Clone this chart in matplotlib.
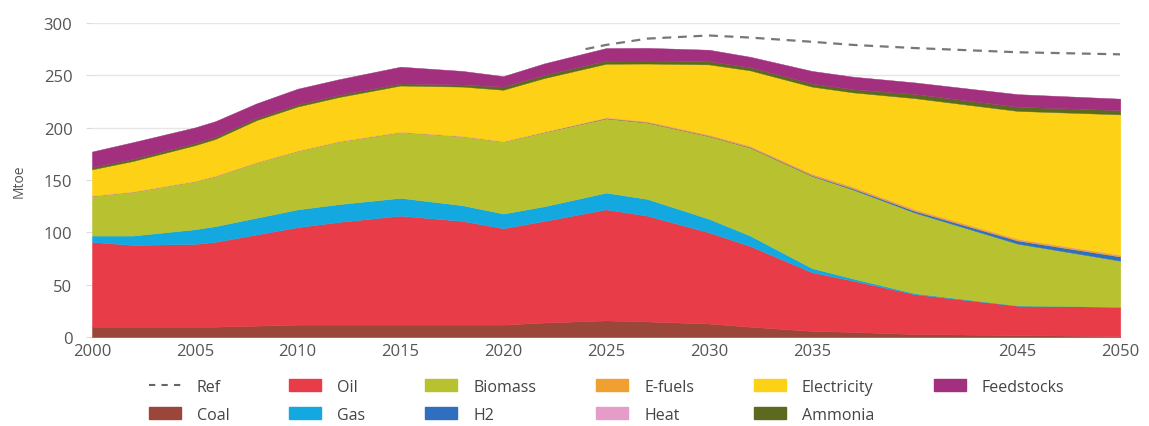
import matplotlib
matplotlib.use('Agg')
import matplotlib.pyplot as plt
from matplotlib.lines import Line2D
from matplotlib.patches import Patch

plt.rcParams['font.family'] = ['Open Sans', 'DejaVu Sans']

# Final energy demand by carrier, Mtoe
years = [2000, 2002, 2005, 2006, 2008, 2010, 2012, 2015, 2018, 2020,
         2022, 2025, 2027, 2030, 2032, 2035, 2037, 2040, 2045, 2050]
coal = [10, 10, 10, 10, 11, 12, 12, 12, 12, 12, 14, 16, 15, 13, 10, 6, 5, 3, 2, 1]
oil = [81, 78, 79, 81, 87, 93, 98, 104, 99, 92, 97, 106, 101, 87, 77, 56, 49, 38, 28, 28]
gas = [6, 9, 14, 15, 16, 17, 17, 17, 15, 14, 14, 16, 16, 13, 10, 4, 2, 1, 0.3, 0]
biomass = [38, 42, 46, 48, 53, 56, 60, 63, 66, 69, 71, 71, 73, 79, 84, 88, 85, 77, 59, 44]
h2 = [0, 0, 0, 0, 0, 0, 0, 0, 0, 0, 0, 0, 0, 0, 0.2, 0.5, 1, 1.5, 3, 4]
efuels = [0, 0, 0, 0, 0, 0, 0, 0, 0, 0, 0.2, 0.8, 1, 1.2, 1.3, 1.5, 1.5, 1.5, 1.5, 1.5]
heat = [0.2] * 20
electricity = [25, 29, 34, 35, 40, 42, 42, 44, 47, 49, 51, 51, 55, 67, 72, 83, 90, 106, 122, 134]
ammonia = [2, 2, 2, 2, 2, 2, 2, 2, 2, 3, 3, 3, 3, 3, 3, 3, 3, 4, 4, 4]
feedstocks = [15, 16, 15, 15, 14, 15, 15, 16, 13, 10, 11, 12, 12, 11, 10, 12, 12, 11, 12, 11]

ref_years = [2024, 2025, 2027, 2030, 2032, 2035, 2037, 2040, 2045, 2050]
ref = [275, 279, 285, 288, 286, 282, 279, 276, 272, 270]

series = [coal, oil, gas, biomass, h2, efuels, heat, electricity, ammonia, feedstocks]
col = {'Coal': '#9a4638', 'Oil': '#e83c48', 'Gas': '#13a9e0', 'H2': '#2f6fbf',
       'Biomass': '#b8c231', 'E-fuels': '#f0a030', 'Heat': '#e69cc9',
       'Electricity': '#fdd116', 'Ammonia': '#5b6a1f', 'Feedstocks': '#a3307e'}
stack_order = ['Coal', 'Oil', 'Gas', 'Biomass', 'H2', 'E-fuels', 'Heat',
               'Electricity', 'Ammonia', 'Feedstocks']

fig, ax = plt.subplots(figsize=(11.49, 4.27), dpi=100)
fig.subplots_adjust(left=0.080, right=0.975, top=0.944, bottom=0.208)

ax.stackplot(years, *series, colors=[col[k] for k in stack_order], linewidth=0.3,
             edgecolor='face', zorder=2)
ax.plot(ref_years, ref, color='#777777', linestyle=(0, (4, 3)), linewidth=1.6, zorder=3)

ax.set_xlim(2000, 2050)
ax.set_ylim(0, 300)
ax.set_yticks([0, 50, 100, 150, 200, 250, 300])
ax.set_xticks([2000, 2005, 2010, 2015, 2020, 2025, 2030, 2035, 2045, 2050])
ax.yaxis.grid(True, color='#e6e6e6', linewidth=1, zorder=0)
ax.set_axisbelow(True)
for s in ax.spines.values():
    s.set_visible(False)
ax.tick_params(axis='y', length=4, color='#dddddd', labelsize=12,
               labelcolor='#555555', pad=10)
ax.tick_params(axis='x', length=0, labelsize=12, labelcolor='#555555', pad=4)
ax.set_ylabel('Mtoe', fontsize=10, color='#555555', labelpad=12)

# legend in column order: Ref, Coal | Oil, Gas | Biomass, H2 | ...
leg_labels = ['Ref', 'Coal', 'Oil', 'Gas', 'Biomass', 'H2', 'E-fuels', 'Heat',
              'Electricity', 'Ammonia', 'Feedstocks']
handles = [Line2D([0], [0], color='#666666', linestyle=(0, (3, 3)), linewidth=1.5)]
handles += [Patch(color=col[k]) for k in leg_labels[1:]]
leg = fig.legend(handles, leg_labels, ncol=6, loc='lower center',
                 bbox_to_anchor=(0.528, 0.0), frameon=False, fontsize=11.5,
                 handlelength=2.0, handleheight=0.75, columnspacing=3.75,
                 labelspacing=0.75, handletextpad=1.0, borderaxespad=0.0,
                 borderpad=0.2)
for t in leg.get_texts():
    t.set_color('#444444')

fig.savefig('out.png', dpi=100)
